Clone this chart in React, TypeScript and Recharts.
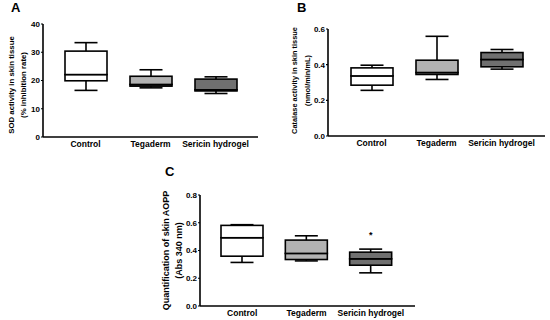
import React from 'react';
import { ComposedChart, Bar, XAxis, YAxis, ReferenceDot } from 'recharts';

const FONT = '"Liberation Sans", Arial, Helvetica, sans-serif';

const categories = ['Control', 'Tegaderm', 'Sericin hydrogel'];
const boxColors = ['#ffffff', '#b2b2b2', '#707070'];

// A: SOD activity
const sodMin = [16.5, 17.4, 15.4];
const sodQ1 = [19.9, 18.0, 16.3];
const sodMed = [22.1, 18.6, 16.7];
const sodQ3 = [30.4, 21.5, 20.5];
const sodMax = [33.4, 23.8, 21.3];
const sodTicks = [0, 10, 20, 30, 40];

// B: catalase activity
const catMin = [0.256, 0.317, 0.375];
const catQ1 = [0.285, 0.345, 0.388];
const catMed = [0.337, 0.356, 0.429];
const catQ3 = [0.382, 0.425, 0.468];
const catMax = [0.397, 0.559, 0.485];
const catTicks = [0, 0.2, 0.4, 0.6];

// C: AOPP
const aoppMin = [0.314, 0.325, 0.239];
const aoppQ1 = [0.359, 0.335, 0.294];
const aoppMed = [0.492, 0.379, 0.34];
const aoppQ3 = [0.581, 0.475, 0.388];
const aoppMax = [0.586, 0.506, 0.41];
const aoppTicks = [0, 0.2, 0.4, 0.6, 0.8];
const aoppStar = { name: 'Sericin hydrogel', value: 0.516 };

function buildRows(min: number[], q1: number[], med: number[], q3: number[], max: number[]) {
  return categories.map((name, i) => ({
    name,
    color: boxColors[i],
    base: min[i],
    lowW: q1[i] - min[i],
    box1: med[i] - q1[i],
    box2: q3[i] - med[i],
    highW: max[i] - q3[i],
  }));
}

const sodRows = buildRows(sodMin, sodQ1, sodMed, sodQ3, sodMax);
const catRows = buildRows(catMin, catQ1, catMed, catQ3, catMax);
const aoppRows = buildRows(aoppMin, aoppQ1, aoppMed, aoppQ3, aoppMax);

const Whisker = (top: boolean) => (props: any) => {
  const { x, y, width, height } = props;
  const cx = x + width / 2;
  const capY = top ? y : y + height;
  return (
    <g>
      <line x1={cx} x2={cx} y1={y} y2={y + height} stroke="#000" strokeWidth={1.6} />
      <line x1={cx - 11.5} x2={cx + 11.5} y1={capY} y2={capY} stroke="#000" strokeWidth={1.6} />
    </g>
  );
};

const BoxPart = (props: any) => {
  const { x, y, width, height, payload } = props;
  return <rect x={x} y={y} width={width} height={height} fill={payload.color} stroke="#000" strokeWidth={1.6} />;
};

const yLabel = (lines: string[], xs: number[], dy: number, size: number) => (props: any) => {
  const vb = props.viewBox;
  const cy = vb.y + vb.height / 2 + dy;
  return (
    <g>
      {lines.map((t, i) => {
        const lx = vb.x + xs[i];
        return (
          <text
            key={i}
            x={lx}
            y={cy}
            transform={`rotate(-90 ${lx} ${cy})`}
            textAnchor="middle"
            dominantBaseline="central"
            fontSize={size}
            fontWeight="bold"
            fontFamily={FONT}
            fill="#000"
          >
            {t}
          </text>
        );
      })}
    </g>
  );
};

type PanelProps = {
  rows: any[];
  width: number;
  height: number;
  margin: { top: number; right: number; bottom: number; left: number };
  yWidth: number;
  xHeight: number;
  ticks: number[];
  decimals: number;
  padding: { left: number; right: number };
  label: (props: any) => React.ReactNode;
  star?: { name: string; value: number };
};

function Panel({ rows, width, height, margin, yWidth, xHeight, ticks, decimals, padding, label, star }: PanelProps) {
  const axisLine = { stroke: '#000', strokeWidth: 1.6 };
  return (
    <ComposedChart width={width} height={height} data={rows} margin={margin} barSize={42}>
      <XAxis
        dataKey="name"
        height={xHeight}
        padding={padding}
        axisLine={axisLine}
        tickLine={false}
        tickSize={0}
        tickMargin={4}
        interval={0}
        tick={{ fontSize: 8.5, fontWeight: 'bold', fill: '#000', fontFamily: FONT }}
      />
      <YAxis
        width={yWidth}
        domain={[ticks[0], ticks[ticks.length - 1]]}
        ticks={ticks}
        interval={0}
        axisLine={axisLine}
        tickLine={{ stroke: '#000', strokeWidth: 1.2 }}
        tickSize={2}
        tickMargin={1}
        tickFormatter={(v: number) => v.toFixed(decimals)}
        tick={{ fontSize: 8, fontWeight: 'bold', fill: '#000', fontFamily: FONT }}
        label={{ content: label }}
      />
      <Bar dataKey="base" stackId="b" shape={() => <g />} isAnimationActive={false} />
      <Bar dataKey="lowW" stackId="b" shape={Whisker(false)} isAnimationActive={false} />
      <Bar dataKey="box1" stackId="b" shape={BoxPart} isAnimationActive={false} />
      <Bar dataKey="box2" stackId="b" shape={BoxPart} isAnimationActive={false} />
      <Bar dataKey="highW" stackId="b" shape={Whisker(true)} isAnimationActive={false} />
      {star && (
        <ReferenceDot
          x={star.name}
          y={star.value}
          r={0}
          shape={(p: any) => (
            <text x={p.cx} y={p.cy + 4} textAnchor="middle" fontSize={9} fontWeight="bold" fontFamily={FONT} fill="#000">
              *
            </text>
          )}
        />
      )}
    </ComposedChart>
  );
}

const letterStyle: React.CSSProperties = {
  position: 'absolute',
  fontFamily: FONT,
  fontWeight: 'bold',
  fontSize: 13,
  lineHeight: '12px',
  color: '#000',
};

export default function App() {
  return (
    <div style={{ position: 'absolute', left: 0, top: 0, width: 550, height: 320, background: '#fff', overflow: 'hidden' }}>
      <div style={{ position: 'absolute', left: 0, top: 0 }}>
        <Panel
          rows={sodRows}
          width={265}
          height={160}
          margin={{ top: 24, right: 7, bottom: 3, left: 0 }}
          yWidth={43}
          xHeight={20}
          ticks={sodTicks}
          decimals={0}
          padding={{ left: 10, right: 10 }}
          label={yLabel(['SOD activity in skin tissue', '(% inhibition rate)'], [11, 23], 4.5, 7.8)}
        />
      </div>
      <div style={{ position: 'absolute', left: 275, top: 0 }}>
        <Panel
          rows={catRows}
          width={275}
          height={160}
          margin={{ top: 29, right: 5, bottom: 4, left: 0 }}
          yWidth={53}
          xHeight={20}
          ticks={catTicks}
          decimals={1}
          padding={{ left: 11, right: 11 }}
          label={yLabel(['Catalase activity in skin tissue', '(nmol/min/mL)'], [19, 32], -2, 7.4)}
        />
      </div>
      <div style={{ position: 'absolute', left: 140, top: 160 }}>
        <Panel
          rows={aoppRows}
          width={280}
          height={160}
          margin={{ top: 35, right: 5, bottom: 0, left: 0 }}
          yWidth={60}
          xHeight={14}
          ticks={aoppTicks}
          decimals={1}
          padding={{ left: 10, right: 12 }}
          label={yLabel(['Quantification of skin AOPP', '(Abs 340 nm)'], [26, 39], 0, 9)}
          star={aoppStar}
        />
      </div>
      <div style={{ ...letterStyle, left: 11, top: 2 }}>A</div>
      <div style={{ ...letterStyle, left: 297, top: 2 }}>B</div>
      <div style={{ ...letterStyle, left: 165, top: 166 }}>C</div>
    </div>
  );
}
